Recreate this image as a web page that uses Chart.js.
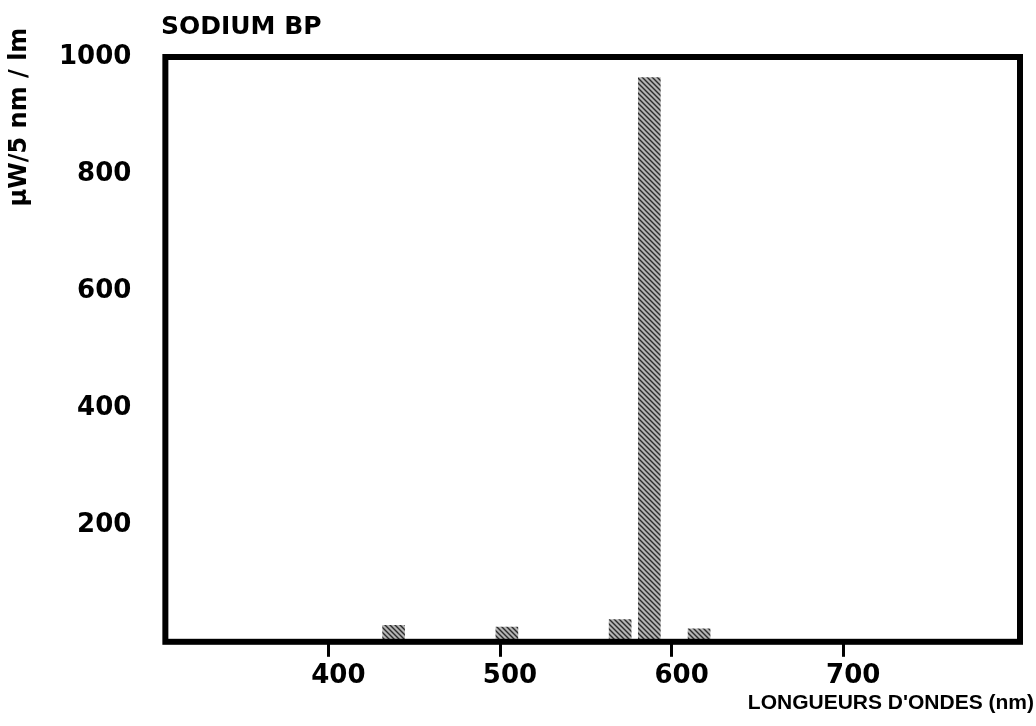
<!DOCTYPE html>
<html>
<head>
<meta charset="utf-8">
<title>Sodium BP</title>
<script src="https://cdn.jsdelivr.net/npm/chart.js@4/dist/chart.umd.min.js"></script>
<style>
    html, body { margin: 0; padding: 0; background: #fff; }
    canvas { display: block; }
</style>
</head>
<body>
<canvas id="myChart" width="1036" height="726"></canvas>
<script>
// spectrum (nm -> µW / 5 nm / lm)
const wavelengths = [438, 504, 570, 587, 616];
const powerValues = [28, 25, 38, 965, 22];
const xTickValues = [400, 500, 600, 700];
const yTickValues = [200, 400, 600, 800, 1000];

const chartTitle = "SODIUM BP";
const yTitle = "µW/5 nm / lm";
const xTitle = "LONGUEURS D'ONDES (nm)";

function makeHatch() {
    const tile = document.createElement("canvas");
    tile.width = 5;
    tile.height = 5;
    const c = tile.getContext("2d");
    c.fillStyle = "#b4b4b4";
    c.fillRect(0, 0, 5, 5);
    c.strokeStyle = "#2b2b2b";
    c.lineWidth = 1.4;
    c.beginPath();
    c.moveTo(-1, -1); c.lineTo(6, 6);
    c.moveTo(-1, 4); c.lineTo(1, 6);
    c.moveTo(4, -1); c.lineTo(6, 1);
    c.stroke();
    return c.createPattern(tile, "repeat");
}

// thick frame round the plot + the hand placed titles
const frameAndText = {
    id: "frameAndText",
    afterDraw(chart) {
        const { ctx, chartArea } = chart;
        ctx.save();
        ctx.strokeStyle = "#000";
        ctx.lineWidth = 6;
        ctx.strokeRect(chartArea.left, chartArea.top,
            chartArea.right - chartArea.left, chartArea.bottom - chartArea.top);

        ctx.fillStyle = "#000";
        ctx.textBaseline = "middle";
        ctx.font = "bold 25px 'DejaVu Sans'";
        ctx.textAlign = "left";
        ctx.fillText(chartTitle, 161, 27);

        ctx.font = "bold 21px 'Liberation Sans'";
        ctx.textAlign = "right";
        ctx.fillText(xTitle, 1034, 703);

        ctx.translate(20, 117);
        ctx.rotate(-Math.PI / 2);
        ctx.font = "bold 24px 'DejaVu Sans'";
        ctx.textAlign = "center";
        ctx.fillText(yTitle, 0, 0);
        ctx.restore();
    }
};

function drawChart() {
    const ctx = document.getElementById("myChart").getContext("2d");
    const tickFont = { family: "'DejaVu Sans'", size: 26, weight: "bold" };

    new Chart(ctx, {
        type: "bar",
        data: {
            datasets: [{
                label: chartTitle,
                data: wavelengths.map((w, i) => ({ x: w, y: powerValues[i] })),
                backgroundColor: makeHatch(),
                borderWidth: 0,
                barThickness: 22
            }]
        },
        options: {
            responsive: false,
            animation: false,
            layout: { padding: { left: 25, top: 57, right: 16, bottom: 30 } },
            plugins: {
                legend: { display: false },
                tooltip: { enabled: false },
                title: { display: false }
            },
            scales: {
                x: {
                    type: "linear",
                    min: 305,
                    max: 803,
                    offset: false,
                    grid: { offset: false, drawOnChartArea: false, drawTicks: true, tickLength: 15, tickWidth: 3, tickColor: "#000" },
                    border: { display: false },
                    afterBuildTicks: axis => { axis.ticks = xTickValues.map(v => ({ value: v })); },
                    ticks: { font: tickFont, color: "#000", padding: 4, labelOffset: 10, maxRotation: 0, autoSkip: false, callback: v => String(v) }
                },
                y: {
                    min: 0,
                    max: 1000,
                    grid: { drawOnChartArea: false, drawTicks: false },
                    border: { display: false },
                    afterBuildTicks: axis => { axis.ticks = yTickValues.map(v => ({ value: v })); },
                    ticks: { font: tickFont, color: "#000", padding: 34, callback: v => String(v) }
                }
            }
        },
        plugins: [frameAndText]
    });
}

drawChart();
</script>
</body>
</html>
